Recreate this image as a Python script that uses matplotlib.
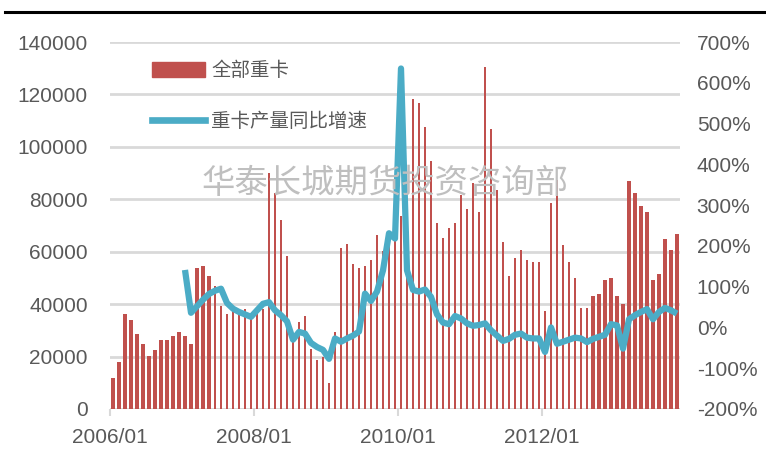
import numpy as np
import pandas as pd
import matplotlib
matplotlib.use("Agg")
import matplotlib.pyplot as plt
from matplotlib.lines import Line2D
from matplotlib.patches import Patch
from matplotlib.ticker import FuncFormatter

# monthly data, 2006/01 .. 2013/11
months = pd.date_range("2006-01-01", "2013-11-01", freq="MS")

heavy_trucks = [
    11800, 17900, 36300, 34000, 28600, 24800, 20100, 22400, 26300, 26300, 27800, 29300,   # 2006
    27800, 24800, 53800, 54600, 50800, 46900, 39300, 36300, 37500, 36500, 38000, 35500,   # 2007
    37000, 38000, 90000, 82300, 72200, 58500, 27000, 33000, 35500, 23000, 18600, 20000,   # 2008
    10000, 29300, 61500, 63000, 55300, 53800, 54600, 57000, 66200, 60200, 63000, 65000,   # 2009
    73500, 70000, 118400, 116900, 107500, 94500, 70800, 65300, 69200, 70800, 81500, 76200,  # 2010
    86200, 75300, 130600, 107000, 83600, 63800, 50900, 57700, 60600, 57000, 56100, 56100,  # 2011
    37500, 78400, 87400, 62400, 56100, 50000, 38500, 38500, 43200, 43800, 49300, 50100,   # 2012
    43200, 40000, 86800, 82300, 77600, 75300, 49300, 51600, 64700, 60800, 66900,          # 2013
]

# YoY growth (%), starts 2007/01
yoy_growth = [
    141, 36, 52, 68, 82, 90, 95, 60, 46, 38, 32, 26,          # 2007
    42, 58, 62, 42, 30, 15, -30, -11, -15, -38, -48, -55,     # 2008
    -77, -27, -35, -27, -20, -10, 83, 65, 88, 140, 231, 218,  # 2009
    635, 140, 92, 88, 93, 75, 32, 12, 8, 28, 22, 10,          # 2010
    4, 6, 10, -7, -20, -33, -28, -18, -15, -25, -27, -27,     # 2011
    -60, 0, -40, -35, -30, -25, -27, -36, -28, -23, -18, 8,   # 2012
    5, -52, 20, 30, 38, 45, 20, 38, 48, 42, 34,               # 2013
]

xtick_labels = ["2006/01", "2008/01", "2010/01", "2012/01"]

bar_color = "#C0504D"
line_color = "#4BACC6"
grid_color = "#D9D9D9"
text_color = "#595959"
num_font = ["Liberation Sans", "DejaVu Sans"]
cjk_font = ["Noto Sans CJK SC", "DejaVu Sans"]

x = np.arange(len(months))
x_line = np.arange(len(months) - len(yoy_growth), len(months))
# wide bars at both ends of the chart, thin in the middle (as rendered in the source)
widths = np.where((x <= 16) | (x >= 80), 0.55, 0.28)

fig = plt.figure(figsize=(7.66, 4.55), dpi=100)
ax = fig.add_axes([110 / 766, 46 / 455, 570 / 766, 367 / 455])
ax2 = ax.twinx()

ax.bar(x, heavy_trucks, width=widths, color=bar_color, zorder=2)
ax2.plot(x_line, np.array(yoy_growth) / 100, color=line_color, lw=4.5,
         solid_joinstyle="round", solid_capstyle="butt", zorder=3)

ax.set_xlim(-0.5, len(months) - 0.5)
ax.set_ylim(0, 140000)
ax.set_yticks(np.arange(0, 140001, 20000))
ax2.set_ylim(-2, 7)
ax2.set_yticks(np.arange(-2, 7.01, 1))
ax2.yaxis.set_major_formatter(FuncFormatter(lambda v, p: f"{v * 100:.0f}%"))

tick_pos = [months.get_loc(pd.Timestamp(lbl.replace("/", "-") + "-01")) - 0.5 for lbl in xtick_labels]
ax.set_xticks(tick_pos)
ax.set_xticklabels(xtick_labels)

ax.grid(axis="y", color=grid_color, lw=2, zorder=0)
ax.set_axisbelow(True)
for a in (ax, ax2):
    for s in ("top", "left", "right", "bottom"):
        a.spines[s].set_visible(False)
ax.axhline(0, color=grid_color, lw=2, zorder=1)

ax.tick_params(axis="x", length=5, width=1.5, color=grid_color, pad=9, labelsize=15, labelcolor=text_color)
ax.tick_params(axis="y", length=0, pad=16, labelsize=15, labelcolor=text_color)
ax2.tick_params(axis="y", length=0, pad=12, labelsize=15, labelcolor=text_color)
for lab in ax.get_xticklabels() + ax.get_yticklabels() + ax2.get_yticklabels():
    lab.set_family(num_font)

# watermark
fig.text(385 / 766, 1 - 184 / 455, "华泰长城期货投资咨询部", family=cjk_font, fontsize=24,
         color="#BFBFBF", ha="center", va="center", zorder=0)

handles = [Patch(color=bar_color), Line2D([], [], color=line_color, lw=4.8)]
ax.legend(handles, ["全部重卡", "重卡产量同比增速"], loc="upper left",
          bbox_to_anchor=(152 / 766, 1 - 60 / 455), bbox_transform=fig.transFigure,
          frameon=False, prop={"family": cjk_font, "size": 14}, labelcolor=text_color,
          handlelength=2.7, handleheight=0.85, handletextpad=0.35, labelspacing=1.55,
          borderpad=0, borderaxespad=0)

# black rule across the top of the page
fig.add_artist(Line2D([5 / 766, 1], [1 - 12 / 455, 1 - 12 / 455], color="black", lw=2.2))

fig.savefig("out.png", dpi=100)
